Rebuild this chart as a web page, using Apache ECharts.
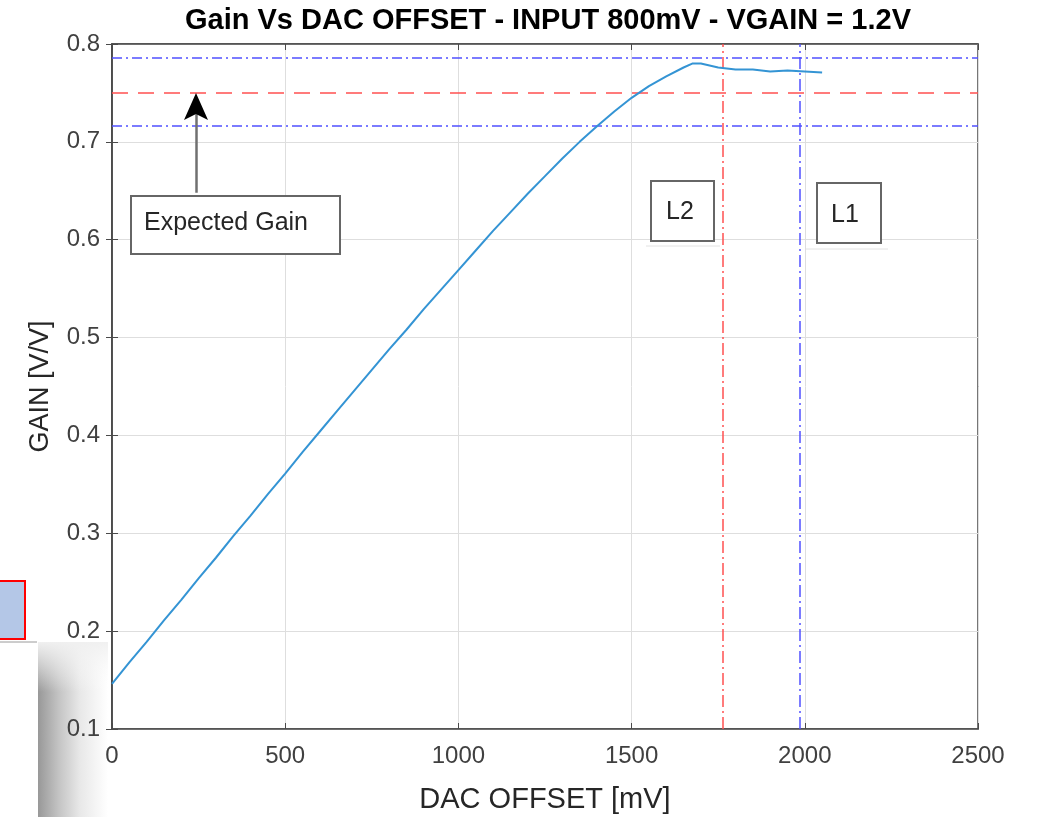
<!DOCTYPE html>
<html>
<head>
<meta charset="utf-8">
<script src="https://cdn.jsdelivr.net/npm/echarts@6/dist/echarts.min.js"></script>
<style>
  html, body { margin: 0; padding: 0; background: #fff; }
  #main { width: 1038px; height: 817px; }
</style>
</head>
<body>
<div id="main"></div>
<script>
// DAC offset [mV] and measured gain [V/V]
var dacOffset = [0, 50, 100, 150, 200, 250, 300, 350, 400, 450, 500, 550, 600, 650, 700, 750,
  800, 850, 900, 950, 1000, 1050, 1100, 1150, 1200, 1250, 1300, 1350, 1400, 1450, 1500,
  1550, 1600, 1650, 1675, 1700, 1750, 1800, 1850, 1900, 1950, 2000, 2050]
var gain = [0.146, 0.168, 0.189, 0.211, 0.232, 0.254, 0.275, 0.297, 0.318, 0.340, 0.361, 0.383,
  0.404, 0.425, 0.446, 0.467, 0.488, 0.508, 0.529, 0.549, 0.569, 0.589, 0.609, 0.628, 0.647,
  0.665, 0.683, 0.700, 0.716, 0.731, 0.745, 0.757, 0.767, 0.776, 0.780, 0.780, 0.776, 0.774,
  0.774, 0.772, 0.773, 0.772, 0.771]

// reference lines
var expectedGain = 0.75
var gainLimits = [0.786, 0.716]
var l2Offset = 1762
var l1Offset = 1986

var xTicks = { min: 0, max: 2500, interval: 500 }
var yTicks = { min: 0.1, max: 0.8, interval: 0.1 }

var echart = echarts.init(document.getElementById('main'))

var tickFont = { fontFamily: 'Liberation Sans', fontSize: 24, color: '#404040' }
var axisColor = '#4a4a4a'

var points = dacOffset.map(function (x, i) { return [x, gain[i]] })

var dashDot = [10, 4, 2, 4]

var option = {
  animation: false,
  backgroundColor: '#fff',
  title: {
    text: 'Gain Vs DAC OFFSET - INPUT 800mV - VGAIN = 1.2V',
    left: 543,
    textAlign: 'center',
    top: 1,
    textStyle: { fontFamily: 'Liberation Sans', fontWeight: 'bold', fontSize: 29, color: '#000' }
  },
  grid: {
    left: 112, right: 60, top: 44, bottom: 88,
    outerBoundsMode: 'none', containLabel: false,
    show: true, borderColor: axisColor, borderWidth: 1.5
  },
  xAxis: [{
    type: 'value',
    min: xTicks.min, max: xTicks.max, interval: xTicks.interval,
    name: 'DAC OFFSET [mV]',
    nameLocation: 'middle',
    nameGap: 56,
    nameTextStyle: { fontFamily: 'Liberation Sans', fontSize: 29, color: '#262626' },
    axisLine: { lineStyle: { color: axisColor, width: 1.5 } },
    axisTick: { inside: true, length: 6, lineStyle: { color: axisColor } },
    axisLabel: Object.assign({ margin: 15, formatter: function (v) { return String(v) } }, tickFont),
    splitLine: { show: true, lineStyle: { color: '#dedede', width: 1 } }
  }, {
    type: 'value', position: 'top',
    min: xTicks.min, max: xTicks.max, interval: xTicks.interval,
    axisLine: { show: true, lineStyle: { color: axisColor, width: 1.5 } },
    axisTick: { inside: true, length: 6, lineStyle: { color: axisColor } },
    axisLabel: { show: false },
    splitLine: { show: false }
  }],
  yAxis: [{
    type: 'value',
    min: yTicks.min, max: yTicks.max, interval: yTicks.interval,
    name: 'GAIN [V/V]',
    nameLocation: 'middle',
    nameGap: 58,
    nameTextStyle: { fontFamily: 'Liberation Sans', fontSize: 27, color: '#262626' },
    axisLine: { show: true, lineStyle: { color: axisColor, width: 1.5 } },
    axisTick: { show: true, inside: true, length: 6, lineStyle: { color: axisColor } },
    axisLabel: Object.assign({ margin: 12, formatter: function (v) { return v.toFixed(1) } }, tickFont),
    splitLine: { show: true, lineStyle: { color: '#dedede', width: 1 } }
  }, {
    type: 'value', position: 'right',
    min: yTicks.min, max: yTicks.max, interval: yTicks.interval,
    axisLine: { show: true, lineStyle: { color: axisColor, width: 1.5 } },
    axisTick: { show: true, inside: true, length: 6, lineStyle: { color: axisColor } },
    axisLabel: { show: false },
    splitLine: { show: false }
  }],
  series: [{
    type: 'line',
    data: points,
    showSymbol: false,
    lineStyle: { color: '#3494d4', width: 2 },
    z: 5,
    markLine: {
      silent: true,
      symbol: 'none',
      precision: 4,
      label: { show: false },
      data: [
        { yAxis: gainLimits[0], lineStyle: { color: '#5050ff', type: dashDot, width: 1.5 } },
        { yAxis: expectedGain, lineStyle: { color: '#ff5050', type: [16, 10], width: 1.5 } },
        { yAxis: gainLimits[1], lineStyle: { color: '#5050ff', type: dashDot, width: 1.5 } },
        { xAxis: l2Offset, lineStyle: { color: '#ff5050', type: [12, 4, 2, 4], width: 1.5 } },
        { xAxis: l1Offset, lineStyle: { color: '#5050ff', type: [12, 4, 2, 4], width: 1.5 } },
        [
          { coord: [242, 0.648], symbol: 'none' },
          { coord: [242, 0.735], symbol: 'none',
            lineStyle: { color: '#707070', type: 'solid', width: 2.5 } }
        ]
      ]
    }
  }],
  graphic: [
    // arrow head
    {
      type: 'polygon', z: 50,
      shape: { points: [[196, 93], [184, 120], [196, 114], [208, 120]] },
      style: { fill: '#000' }
    },
    {
      type: 'rect', z: 50,
      shape: { x: 131, y: 196, width: 209, height: 58 },
      style: { fill: '#fff', stroke: '#666', lineWidth: 2 }
    },
    {
      type: 'text', z: 51, left: 144, top: 211,
      style: { text: 'Expected Gain', fontFamily: 'Liberation Sans', fontSize: 25, fill: '#262626' }
    },
    {
      type: 'rect', z: 50,
      shape: { x: 651, y: 181, width: 63, height: 60 },
      style: { fill: '#fff', stroke: '#666', lineWidth: 2 }
    },
    {
      type: 'text', z: 51, left: 666, top: 200,
      style: { text: 'L2', fontFamily: 'Liberation Sans', fontSize: 25, fill: '#262626' }
    },
    { type: 'line', z: 49, shape: { x1: 646, y1: 246, x2: 720, y2: 246 }, style: { stroke: '#e2e2e2', lineWidth: 1 } },
    {
      type: 'rect', z: 50,
      shape: { x: 817, y: 183, width: 64, height: 60 },
      style: { fill: '#fff', stroke: '#666', lineWidth: 2 }
    },
    {
      type: 'text', z: 51, left: 831, top: 203,
      style: { text: 'L1', fontFamily: 'Liberation Sans', fontSize: 25, fill: '#262626' }
    },
    { type: 'line', z: 49, shape: { x1: 806, y1: 249, x2: 888, y2: 249 }, style: { stroke: '#e2e2e2', lineWidth: 1 } },
    // leftover bits of the screenshot at the left edge
    {
      type: 'rect', z: -5,
      shape: { x: -3, y: 581, width: 28, height: 58 },
      style: { fill: '#b4c7e7', stroke: '#ff0000', lineWidth: 2 }
    },
    { type: 'line', z: -5, shape: { x1: 0, y1: 642, x2: 37, y2: 642 }, style: { stroke: '#9a9a9a', lineWidth: 1 } },
    {
      type: 'rect', z: -10,
      shape: { x: 38, y: 642, width: 70, height: 175 },
      style: {
        fill: new echarts.graphic.LinearGradient(0, 0, 1, 0, [
          { offset: 0, color: '#989898' },
          { offset: 0.3, color: '#c4c4c4' },
          { offset: 0.6, color: '#e8e8e8' },
          { offset: 1, color: '#ffffff' }
        ])
      }
    },
    {
      type: 'rect', z: -9,
      shape: { x: 38, y: 642, width: 70, height: 50 },
      style: {
        fill: new echarts.graphic.LinearGradient(0, 0, 0, 1, [
          { offset: 0, color: 'rgba(240,240,240,1)' },
          { offset: 1, color: 'rgba(255,255,255,0)' }
        ])
      }
    }
  ]
}

echart.setOption(option)
</script>
</body>
</html>
